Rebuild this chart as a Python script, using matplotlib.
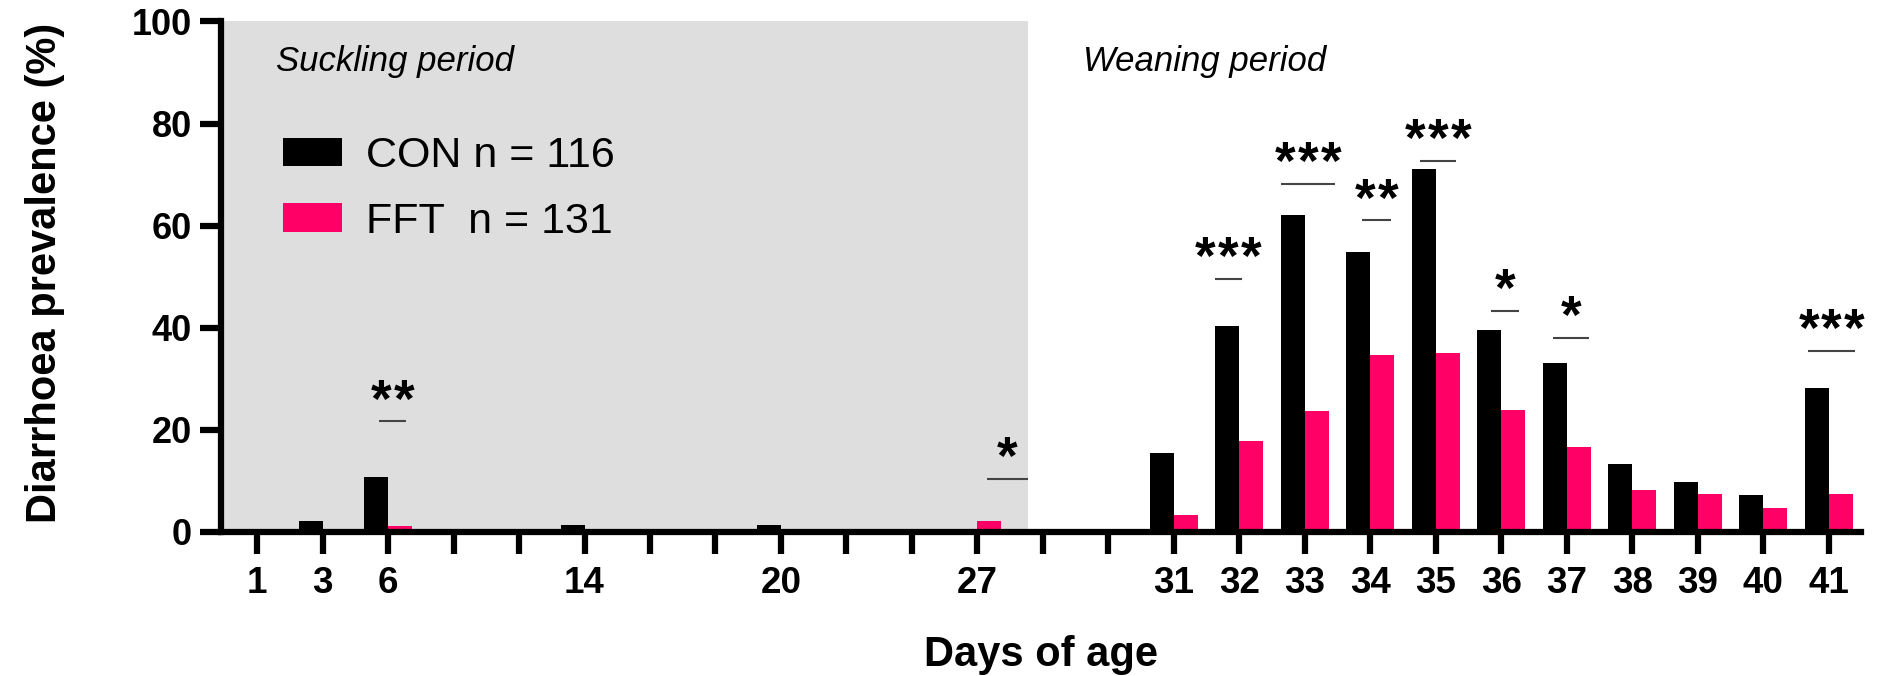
import matplotlib
matplotlib.use('Agg')
import matplotlib.pyplot as plt
import numpy as np

plt.rcParams['font.family'] = ['Liberation Sans', 'DejaVu Sans']

# day labels along the axis (blank slots are unlabelled days)
days = ['1', '3', '6', '', '', '14', '', '', '20', '', '', '27', '', '',
        '31', '32', '33', '34', '35', '36', '37', '38', '39', '40', '41']

# diarrhoea prevalence (%) per day
con = [0, 2.0, 10.8, 0, 0, 1.4, 0, 0, 1.4, 0, 0, 0, 0, 0,
       15.5, 40.3, 62.1, 54.8, 71.1, 39.5, 33.1, 13.3, 9.7, 7.2, 28.2]
fft = [0, 0, 1.2, 0, 0, 0, 0, 0, 0.5, 0, 0, 2.1, 0, 0,
       3.3, 17.8, 23.7, 34.6, 35.0, 23.9, 16.6, 8.2, 7.3, 4.6, 7.3]

con_label = 'CON n = 116'
fft_label = 'FFT  n = 131'

# significance marks: day, number of stars, height of the bar line
sig_days = ['6', '27', '32', '33', '34', '35', '36', '37', '41']
sig_stars = [2, 1, 3, 3, 2, 3, 1, 1, 3]
sig_y = [21.6, 10.3, 49.5, 68.1, 61.0, 72.7, 43.3, 38.0, 35.5]
sig_span = [(-0.14, 0.28), (0.14, 0.78), (-0.37, 0.04), (-0.36, 0.46),
            (-0.13, 0.31), (-0.24, 0.31), (-0.16, 0.27), (-0.21, 0.34),
            (-0.31, 0.40)]

black = '#000000'
pink = '#FF0066'

fig = plt.figure(figsize=(18.8, 6.76), dpi=100)
ax = fig.add_axes([0.1176, 0.2135, 0.8725, 0.7547])

x = np.arange(len(days))
w = 0.366
xlim = (-0.55, 24.5)

# suckling period shading
ax.axvspan(xlim[0], 11.77, ymin=0, ymax=1, color='#DEDEDE', lw=0, zorder=0)

ax.bar(x - w/2, con, w, color=black, label=con_label, zorder=2)
ax.bar(x + w/2, fft, w, color=pink, label=fft_label, zorder=2)

# stars are set one by one so they sit apart like the usual Prism marks
pitch = 16.5  # points between star centres
for d, n, y, (a, b) in zip(sig_days, sig_stars, sig_y, sig_span):
    i = days.index(d)
    ax.plot([i + a, i + b], [y, y], color='#444444', lw=1.5, zorder=3,
            solid_capstyle='butt')
    xc = i + (a + b)/2
    for k in range(n):
        dx = (k - (n - 1)/2) * pitch
        ax.annotate('*', xy=(xc, y), xytext=(dx, 3.5), textcoords='offset points',
                    ha='center', va='baseline', fontsize=38, fontweight='bold')

ax.text(0.29, 92.1, 'Suckling period', style='italic', fontsize=25,
        ha='left', va='center')
ax.text(12.62, 92.1, 'Weaning period', style='italic', fontsize=25,
        ha='left', va='center')

ax.set_xlim(*xlim)
ax.set_ylim(0, 100)
ax.set_xticks(x)
ax.set_xticklabels(days)
ax.set_yticks([0, 20, 40, 60, 80, 100])

for side in ['top', 'right']:
    ax.spines[side].set_visible(False)
for side in ['left', 'bottom']:
    ax.spines[side].set_linewidth(4.5)
    ax.spines[side].set_zorder(4)

ax.tick_params(axis='x', length=16, width=4.5, pad=9, labelsize=26.5)
ax.tick_params(axis='y', length=15, width=4.5, pad=6, labelsize=26)
for lab in ax.get_xticklabels() + ax.get_yticklabels():
    lab.set_fontweight('bold')

fig.text(0.5537, 0.031, 'Days of age', fontsize=30, fontweight='bold',
         ha='center', va='center')
fig.text(0.024, 0.596, 'Diarrhoea prevalence (%)', fontsize=30, fontweight='bold',
         ha='center', va='center', rotation=90)

ax.legend(loc='upper left', bbox_to_anchor=(283/1880, 1 - 136/676),
          bbox_transform=fig.transFigure, frameon=False, fontsize=31,
          handlelength=1.37, handleheight=0.65, handletextpad=0.56,
          labelspacing=0.6, borderpad=0, borderaxespad=0)

fig.savefig('out.png', dpi=100)
